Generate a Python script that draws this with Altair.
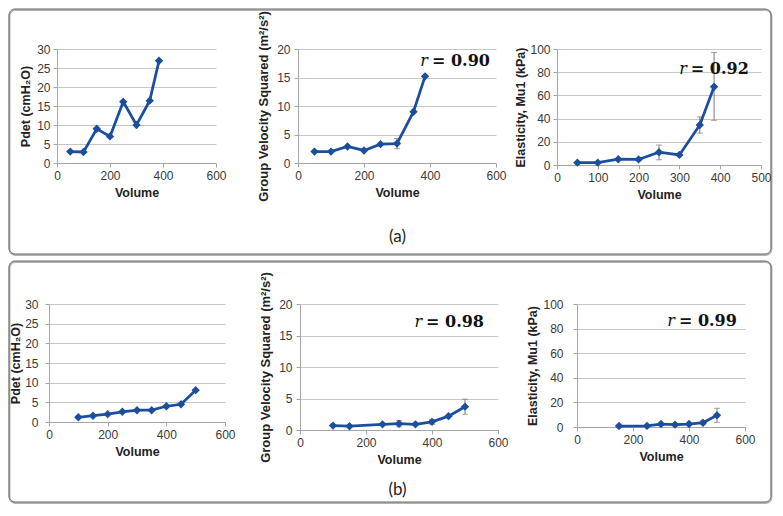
import altair as alt
import pandas as pd

BLUE = "#1c4e9e"
ERR = "#7a7a7a"

# ---------------- data: row (a) ----------------
a1_vol = [50, 100, 150, 200, 250, 300, 350, 385]
a1_val = [3.0, 2.9, 9.0, 7.0, 16.1, 10.0, 16.4, 26.9]

a2_vol = [50, 100, 150, 200, 250, 300, 350, 385]
a2_val = [2.0, 2.0, 2.9, 2.2, 3.3, 3.4, 9.0, 15.2]
a2_err_vol = [300]
a2_err_lo = [2.5]
a2_err_hi = [4.3]

a3_vol = [50, 100, 150, 200, 250, 300, 350, 385]
a3_val = [2.0, 2.0, 5.0, 4.8, 11.0, 8.7, 34.5, 67.5]
a3_err_vol = [200, 250, 350, 385]
a3_err_lo = [3.8, 4.5, 27.5, 38.5]
a3_err_hi = [5.8, 17.2, 41.5, 97.0]

# ---------------- data: row (b) ----------------
b1_vol = [100, 150, 200, 250, 300, 350, 400, 450, 500]
b1_val = [1.2, 1.6, 2.0, 2.6, 3.0, 3.0, 4.0, 4.5, 8.1]

b2_vol = [100, 150, 250, 300, 350, 400, 450, 500]
b2_val = [0.7, 0.6, 0.9, 1.0, 0.9, 1.3, 2.2, 3.7]
b2_err_vol = [300, 400, 500]
b2_err_lo = [0.5, 0.9, 2.5]
b2_err_hi = [1.5, 1.7, 4.9]

b3_vol = [150, 250, 300, 350, 400, 450, 500]
b3_val = [0.8, 0.9, 2.4, 1.9, 2.4, 3.5, 9.5]
b3_err_vol = [450, 500]
b3_err_lo = [2.0, 3.8]
b3_err_hi = [5.0, 15.2]

# r annotations: (x, y, value text)
ann_a2 = (406, 17.9, "= 0.90")
ann_a3 = (328, 83, "= 0.92")
ann_b2 = (382, 17.1, "= 0.98")
ann_b3 = (364, 86.5, "= 0.99")


def panel(vol, val, evol, elo, ehi, xmax, xstep, ymax, ystep, w, h,
          ytitle, ann, lab_pad, tit_pad, tsize=12.5):
    xscale = alt.Scale(domain=[0, xmax], nice=False)
    yscale = alt.Scale(domain=[0, ymax], nice=False)
    xaxis = alt.Axis(values=list(range(0, xmax + 1, xstep)), title="Volume",
                     grid=False, labelFlush=False, tickSize=4, labelPadding=3,
                     titlePadding=5, titleFontSize=12.5)
    yaxis = alt.Axis(values=list(range(0, ymax + 1, ystep)), title=ytitle,
                     grid=True, tickSize=4, labelPadding=lab_pad,
                     titlePadding=tit_pad, titleFontSize=tsize)

    def X(f):
        return alt.X(f, type="quantitative", scale=xscale, axis=xaxis)

    def Y(f):
        return alt.Y(f, type="quantitative", scale=yscale, axis=yaxis)

    df = pd.DataFrame({"Volume": vol, "val": val})
    base = alt.Chart(df)
    layers = []
    if evol:
        edf = pd.DataFrame({"Volume": evol, "val": elo, "hi": ehi})
        eb = alt.Chart(edf)
        layers.append(eb.mark_rule(color=ERR, strokeWidth=1).encode(
            x=X("Volume"), y=Y("val"), y2="hi:Q"))
        layers.append(eb.mark_tick(color=ERR, orient="horizontal", size=6,
                                   thickness=1).encode(x=X("Volume"), y=Y("val")))
        layers.append(eb.mark_tick(color=ERR, orient="horizontal", size=6,
                                   thickness=1).encode(x=X("Volume"), y=Y("hi")))
    layers.append(base.mark_line(color=BLUE, strokeWidth=2.75).encode(
        x=X("Volume"), y=Y("val")))
    layers.append(base.mark_point(shape="diamond", filled=True, size=70,
                                  color=BLUE, opacity=1).encode(
        x=X("Volume"), y=Y("val")))
    if ann:
        adf = pd.DataFrame({"Volume": [ann[0]], "val": [ann[1]], "t": [ann[2]]})
        ab = alt.Chart(adf)
        layers.append(ab.mark_text(text="r", font="DejaVu Serif", fontSize=16,
                                   fontStyle="italic", align="right",
                                   baseline="middle", dx=-4, color="#111").encode(
            x=X("Volume"), y=Y("val")))
        layers.append(ab.mark_text(font="DejaVu Serif", fontSize=16,
                                   fontWeight="bold", align="left",
                                   baseline="middle", color="#111").encode(
            x=X("Volume"), y=Y("val"), text="t:N"))
    return alt.layer(*layers).properties(width=w, height=h)


def spacer(w, h):
    pt = alt.Chart(pd.DataFrame({"k": [0]})).mark_point(opacity=0).encode(
        x=alt.value(0), y=alt.value(0))
    return alt.layer(pt).properties(width=w, height=h)


def framed(w, h, x1, x2, y1, y2, label, lx, ly):
    d = alt.Chart(pd.DataFrame({"k": [0]}))
    shadow = d.mark_rect(fillOpacity=0, stroke="#b4b4b4", strokeWidth=2,
                         cornerRadius=6).encode(
        x=alt.value(x1 + 0.5), x2=alt.value(x2 + 0.5),
        y=alt.value(y1 + 1), y2=alt.value(y2 + 1))
    box = d.mark_rect(fillOpacity=0, stroke="#6a6a6a", strokeWidth=1,
                      cornerRadius=6).encode(
        x=alt.value(x1), x2=alt.value(x2), y=alt.value(y1), y2=alt.value(y2))
    txt = d.mark_text(text=label, font="Lato", fontSize=17, align="center",
                      baseline="middle", color="#222").encode(
        x=alt.value(lx), y=alt.value(ly))
    return alt.layer(shadow, box, txt).properties(width=w, height=h)


GVS = "Group Velocity Squared  (m²/s²)"
p1a = panel(a1_vol, a1_val, None, None, None, 600, 200, 30, 5, 159, 114,
            "Pdet  (cmH₂O)", None, 3, 4)
p2a = panel(a2_vol, a2_val, a2_err_vol, a2_err_lo, a2_err_hi, 600, 200, 20, 5,
            198, 114, GVS, ann_a2, 4, 6, 13)
p3a = panel(a3_vol, a3_val, a3_err_vol, a3_err_lo, a3_err_hi, 500, 100, 100, 20,
            204, 116, "Elasticity, Mu1 (kPa)", ann_a3, 3, 2)

p1b = panel(b1_vol, b1_val, None, None, None, 600, 200, 30, 5, 176, 118,
            "Pdet  (cmH₂O)", None, 7, 2)
p2b = panel(b2_vol, b2_val, b2_err_vol, b2_err_lo, b2_err_hi, 600, 200, 20, 5,
            198, 126, GVS, ann_b2, 4, 6, 13)
p3b = panel(b3_vol, b3_val, b3_err_vol, b3_err_lo, b3_err_hi, 600, 200, 100, 20,
            168, 123, "Elasticity, Mu1 (kPa)", ann_b3, 10, 3)

spA0 = framed(48, 114, 0, 762, -40, 205, "(a)", 388.5, 187.5)
spB0 = framed(40, 118, 0, 762, -43, 198, "(b)", 388.5, 186)

row_a = alt.hconcat(spA0, p1a, spacer(82, 114), p2a, spacer(61, 114), p3a,
                    spacing=0, bounds="flush")
row_b = alt.hconcat(spB0, p1b, spacer(75, 118), p2b, spacer(79, 118), p3b,
                    spacing=0, bounds="flush")

chart = alt.vconcat(row_a, row_b, spacing=255, bounds="flush").properties(
    padding={"left": 0, "top": 0, "right": 0, "bottom": 0},
    background="white",
).configure_view(stroke=None).configure_axis(
    labelFont="Liberation Sans", labelFontSize=12, labelColor="#3a3a3a",
    titleFont="Liberation Sans", titleFontSize=12, titleFontWeight="bold",
    titleColor="#222222", domainColor="#a6a6a6", tickColor="#a6a6a6",
    gridColor="#c6c6c6",
)

chart.save("out.html", embed_options={"renderer": "svg", "actions": False})
